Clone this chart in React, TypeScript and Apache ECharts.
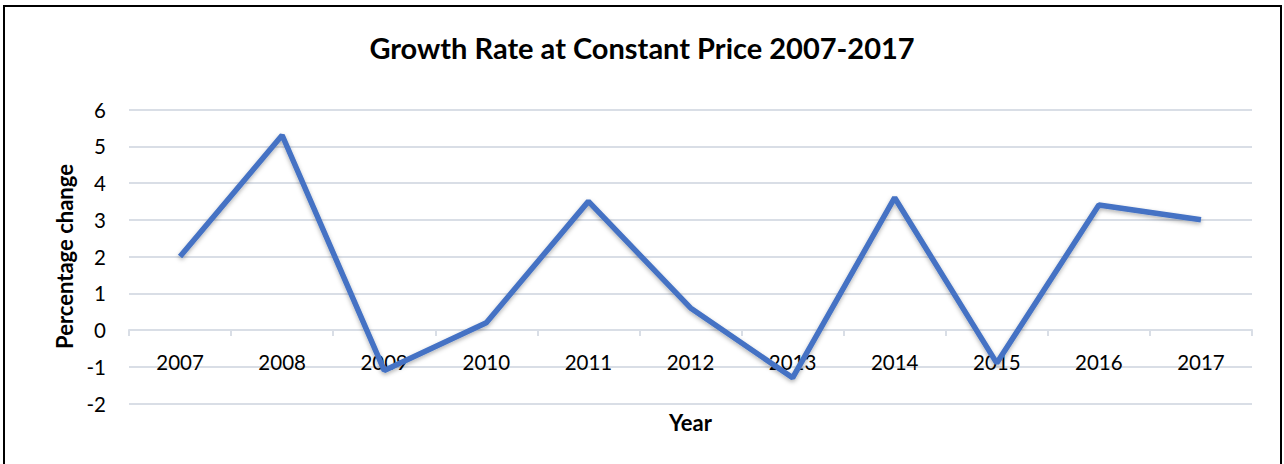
import React, { useEffect, useRef } from "react";
import * as echarts from "echarts";

const years = ["2007", "2008", "2009", "2010", "2011", "2012", "2013", "2014", "2015", "2016", "2017"];
const growth = [2.0, 5.3, -1.1, 0.2, 3.5, 0.6, -1.3, 3.6, -0.9, 3.4, 3.0];

const FONT = "Lato, 'Noto Sans', sans-serif";

export default function App() {
  const ref = useRef<HTMLDivElement>(null);
  useEffect(() => {
    document.body.style.margin = "0";
    const chart = echarts.init(ref.current!, null, { renderer: "svg" });
    chart.setOption({
      animation: false,
      backgroundColor: "#ffffff",
      textStyle: { fontFamily: FONT },
      title: {
        text: "Growth Rate at Constant Price 2007-2017",
        left: "center",
        top: 28,
        textStyle: { fontFamily: FONT, fontWeight: "bold", fontSize: 29, color: "#000" },
      },
      grid: { left: 129, right: 32, top: 109.5, bottom: 60.5, outerBoundsMode: "none", containLabel: false },
      xAxis: {
        type: "category",
        data: years,
        boundaryGap: true,
        name: "Year",
        nameLocation: "middle",
        nameGap: 8,
        nameTextStyle: { fontFamily: FONT, fontWeight: "bold", fontSize: 22, color: "#000" },
        axisLine: { onZero: true, lineStyle: { color: "#D9DEE6", width: 2 } },
        axisTick: { show: true, alignWithLabel: false, length: 6, lineStyle: { color: "#D9DEE6", width: 2 } },
        axisLabel: { margin: -52, fontSize: 20.5, color: "#000", fontFamily: FONT },
        splitLine: { show: false },
      },
      yAxis: {
        type: "value",
        min: -2,
        max: 6,
        interval: 1,
        name: "Percentage change",
        nameLocation: "middle",
        nameGap: 52,
        nameTextStyle: { fontFamily: FONT, fontWeight: "bold", fontSize: 22, color: "#000" },
        axisLine: { show: false },
        axisTick: { show: false },
        axisLabel: { margin: 23, fontSize: 20.5, color: "#000", fontFamily: FONT },
        splitLine: { lineStyle: { color: "#D9DEE6", width: 2 } },
      },
      series: [
        {
          type: "line",
          data: growth,
          symbol: "none",
          lineStyle: {
            color: "#4472C4",
            width: 5.5,
            shadowColor: "rgba(0,0,0,0.3)",
            shadowBlur: 4,
            shadowOffsetY: 2,
          },
          itemStyle: { color: "#4472C4" },
        },
      ],
      graphic: [
        {
          type: "rect",
          shape: { x: 4, y: 6, width: 1277, height: 470 },
          style: { fill: "none", stroke: "#000", lineWidth: 2 },
          silent: true,
        },
      ],
    });
    return () => chart.dispose();
  }, []);
  return <div ref={ref} style={{ position: "fixed", left: 0, top: 0, width: 1284, height: 464 }} />;
}
